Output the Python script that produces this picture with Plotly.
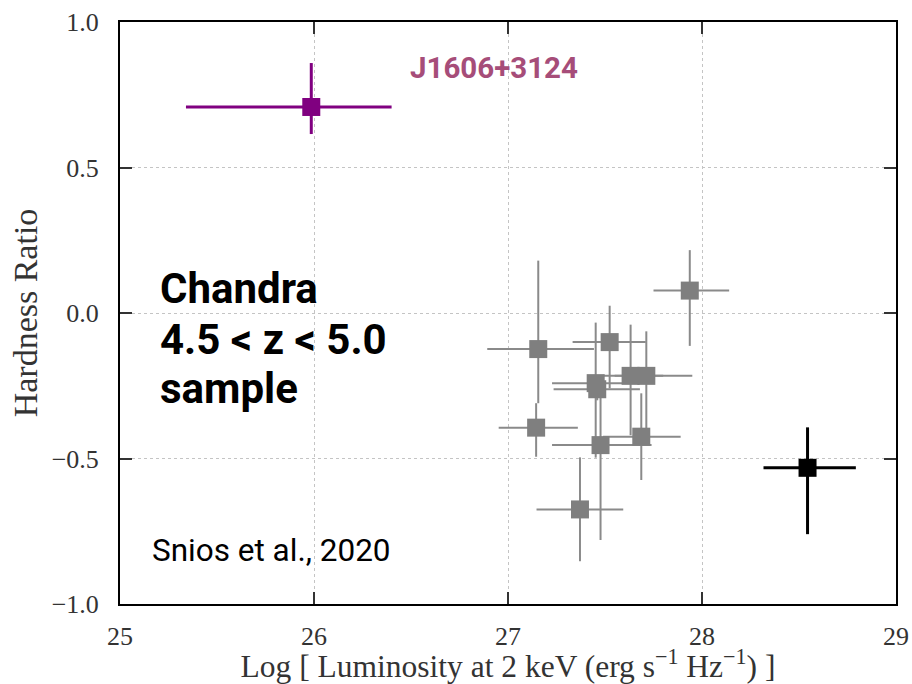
import plotly.graph_objects as go

# Gray sample points (Chandra 4.5 < z < 5.0)
gray_x = [27.937, 27.156, 27.524, 27.452, 27.460, 27.632, 27.713, 27.145, 27.477, 27.687, 27.371]
gray_y = [0.077, -0.124, -0.100, -0.241, -0.262, -0.216, -0.216, -0.394, -0.454, -0.425, -0.675]
gray_x_lo = [27.750, 26.893, 27.333, 27.227, 27.235, 27.490, 27.550, 26.952, 27.227, 27.490, 27.147]
gray_x_hi = [28.140, 27.443, 27.710, 27.590, 27.680, 27.800, 27.950, 27.360, 27.740, 27.890, 27.594]
gray_y_lo = [-0.113, -0.310, -0.259, -0.497, -0.300, -0.420, -0.420, -0.494, -0.780, -0.574, -0.853]
gray_y_hi = [0.216, 0.180, 0.025, -0.033, -0.230, -0.040, -0.063, -0.310, -0.265, -0.276, -0.496]

# J1606+3124 (purple)
p_x, p_y = [25.986], [0.708]
p_x_lo, p_x_hi = [25.340], [26.400]
p_y_lo, p_y_hi = [0.615], [0.859]

# Black point
b_x, b_y = [28.544], [-0.532]
b_x_lo, b_x_hi = [28.317], [28.793]
b_y_lo, b_y_hi = [-0.760], [-0.393]

x_ticks = [25, 26, 27, 28, 29]
y_ticks = [-1.0, -0.5, 0.0, 0.5, 1.0]
y_tick_labels = ["\u22121.0", "\u22120.5", "0.0", "0.5", "1.0"]


def errs(v, lo, hi):
    return [h - a for a, h in zip(v, hi)], [a - l for a, l in zip(v, lo)]


def trace(x, y, xlo, xhi, ylo, yhi, color, ecolor, thick):
    ex_p, ex_m = errs(x, xlo, xhi)
    ey_p, ey_m = errs(y, ylo, yhi)
    return go.Scatter(
        x=x, y=y, mode="markers",
        marker=dict(symbol="square", size=18, color=color, line=dict(width=0)),
        error_x=dict(type="data", symmetric=False, array=ex_p, arrayminus=ex_m,
                     color=ecolor, thickness=thick, width=0),
        error_y=dict(type="data", symmetric=False, array=ey_p, arrayminus=ey_m,
                     color=ecolor, thickness=thick, width=0),
        showlegend=False, hoverinfo="skip",
    )


fig = go.Figure()
fig.add_trace(trace(gray_x, gray_y, gray_x_lo, gray_x_hi, gray_y_lo, gray_y_hi,
                    "#7f7f7f", "#8a8a8a", 2))
fig.add_trace(trace(p_x, p_y, p_x_lo, p_x_hi, p_y_lo, p_y_hi,
                    "#800080", "#800080", 3))
fig.add_trace(trace(b_x, b_y, b_x_lo, b_x_hi, b_y_lo, b_y_hi,
                    "#000000", "#000000", 3))

serif = "Liberation Serif, DejaVu Serif, serif"
axis_common = dict(
    showline=True, linecolor="black", linewidth=2, mirror="ticks",
    ticks="inside", ticklen=12, tickwidth=2, tickcolor="#333333",
    showgrid=True, gridcolor="#c4c4c4", gridwidth=1, griddash="dot",
    zeroline=False, automargin=False,
    tickfont=dict(family=serif, size=26, color="#333333"),
)

fig.update_layout(
    width=912, height=684,
    margin=dict(l=120, r=16, t=22, b=80),
    paper_bgcolor="white", plot_bgcolor="white",
    xaxis=dict(range=[25, 29], tickvals=x_ticks, ticktext=[str(t) for t in x_ticks],
               ticklabelstandoff=8,
               title=dict(text="Log [ Luminosity at 2 keV (erg s<sup>\u22121</sup> Hz<sup>\u22121</sup>) ]",
                          font=dict(family=serif, size=31.5, color="#333333"), standoff=4),
               **axis_common),
    yaxis=dict(range=[-1.0, 1.0], tickvals=y_ticks, ticktext=y_tick_labels,
               ticklabelstandoff=14,
               title=dict(text="Hardness Ratio",
                          font=dict(family=serif, size=34, color="#333333"), standoff=4),
               **axis_common),
)

roboto = "Roboto, Noto Sans, sans-serif"
fig.add_annotation(xref="paper", yref="paper", x=(408 - 120) / 776, y=(604 - 68) / 582,
                   xanchor="left", yanchor="middle", showarrow=False,
                   text="<b>J1606+3124</b>", font=dict(family=roboto, size=29.5, color="#a64d79"))
for txt, py in [("Chandra", 288), ("4.5 &lt; z &lt; 5.0", 339), ("sample", 388)]:
    fig.add_annotation(xref="paper", yref="paper", x=(158 - 120) / 776, y=(604 - py) / 582,
                       xanchor="left", yanchor="middle", showarrow=False,
                       text="<b>" + txt + "</b>", font=dict(family=roboto, size=42, color="black"))
fig.add_annotation(xref="paper", yref="paper", x=(150 - 120) / 776, y=(604 - 550) / 582,
                   xanchor="left", yanchor="middle", showarrow=False,
                   text="Snios et al., 2020", font=dict(family=roboto, size=31.5, color="black"))

fig.write_html("out.html")
